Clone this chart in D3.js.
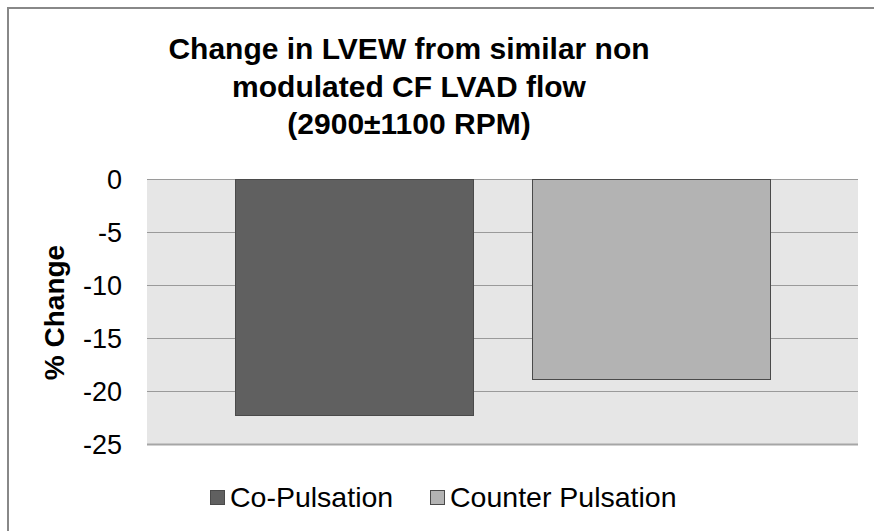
<!DOCTYPE html>
<html>
<head>
<meta charset="utf-8">
<script src="https://cdn.jsdelivr.net/npm/d3@7"></script>
<style>
  body { margin: 0; background: #fff; }
  text { font-family: "Liberation Sans", Arial, sans-serif; fill: #000; }
</style>
</head>
<body>
<div id="chart"></div>
<script>
// data
const titleLines = ["Change in LVEW from similar non", "modulated CF LVAD flow", "(2900\u00b11100 RPM)"];
const categories = [""];
const seriesNames = ["Co-Pulsation", "Counter Pulsation"];
const seriesValues = [-22.3, -18.9];
const seriesColors = ["#606060", "#b3b3b3"];
const yTicks = [0, -5, -10, -15, -20, -25];

const width = 874, height = 531;
const plot = { left: 147, right: 858, top: 179, bottom: 444 };

const svg = d3.select("#chart").append("svg")
    .attr("width", width)
    .attr("height", height);

// outer chart border (right / bottom edges fall outside the picture)
svg.append("rect")
    .attr("x", 8).attr("y", 8)
    .attr("width", width + 10).attr("height", height + 10)
    .attr("fill", "#fff")
    .attr("stroke", "#888")
    .attr("stroke-width", 2);

// title
svg.append("text")
    .attr("text-anchor", "middle")
    .style("font-size", "30px")
    .style("font-weight", "bold")
    .selectAll("tspan")
    .data(titleLines)
    .enter()
    .append("tspan")
    .attr("x", 409)
    .attr("y", (d, i) => 59 + i * 37.5)
    .text(d => d);

const y = d3.scaleLinear().domain([-25, 0]).range([plot.bottom, plot.top]);

const x0 = d3.scaleBand()
    .domain(categories)
    .range([plot.left, plot.right])
    .paddingInner(0)
    .paddingOuter(0.1645);

const x1 = d3.scaleBand()
    .domain(seriesNames)
    .range([0, x0.bandwidth()])
    .paddingInner(0.199)
    .paddingOuter(0);

// plot background
svg.append("rect")
    .attr("x", plot.left).attr("y", plot.top)
    .attr("width", plot.right - plot.left)
    .attr("height", plot.bottom - plot.top)
    .attr("fill", "#e6e6e6");

// gridlines
svg.append("g")
    .selectAll("line")
    .data(yTicks)
    .enter()
    .append("line")
    .attr("x1", plot.left).attr("x2", plot.right)
    .attr("y1", d => Math.round(y(d)) + 0.5)
    .attr("y2", d => Math.round(y(d)) + 0.5)
    .attr("stroke", d => d === -25 ? "#a6a6a6" : "#9a9a9a")
    .attr("stroke-width", d => d === -25 ? 2 : 1.2);

// y axis labels (plain hyphen, as in the original)
const yAxis = d3.axisLeft(y).tickValues(yTicks).tickSize(0).tickPadding(0)
    .tickFormat(d => String(d));
const yg = svg.append("g")
    .attr("transform", "translate(122,0)")
    .call(yAxis);
yg.select(".domain").remove();
yg.selectAll("text")
    .style("font-size", "27px")
    .style("font-family", "'Liberation Sans', Arial, sans-serif")
    .attr("fill", "#000")
    .attr("dy", "0.36em");

// y axis title
svg.append("text")
    .attr("transform", "translate(64," + ((plot.top + plot.bottom) / 2 + 1) + ") rotate(-90)")
    .attr("text-anchor", "middle")
    .style("font-size", "28px")
    .style("font-weight", "bold")
    .text("% Change");

// bars
const bars = seriesNames.map((name, i) => ({ cat: categories[0], name: name, value: seriesValues[i], color: seriesColors[i] }));

svg.append("g")
    .selectAll("rect")
    .data(bars)
    .enter()
    .append("rect")
    .attr("x", d => Math.round(x0(d.cat) + x1(d.name)) + 0.5)
    .attr("y", d => Math.round(y(Math.max(0, d.value))) + 0.5)
    .attr("width", d => Math.round(x1.bandwidth()))
    .attr("height", d => Math.round(Math.abs(y(d.value) - y(0))))
    .attr("fill", d => d.color)
    .attr("stroke", "#4a4a4a")
    .attr("stroke-width", 1);

// legend
const legend = svg.append("g");
const legendX = [210, 430];
const items = legend.selectAll("g")
    .data(bars)
    .enter()
    .append("g")
    .attr("transform", (d, i) => "translate(" + legendX[i] + ",490)");

items.append("rect")
    .attr("x", 0.5).attr("y", 0.5)
    .attr("width", 14).attr("height", 14)
    .attr("fill", d => d.color)
    .attr("stroke", "#4a4a4a")
    .attr("stroke-width", 1);

items.append("text")
    .attr("x", 20)
    .attr("y", 17)
    .style("font-size", "28.5px")
    .text(d => d.name);
</script>
</body>
</html>
